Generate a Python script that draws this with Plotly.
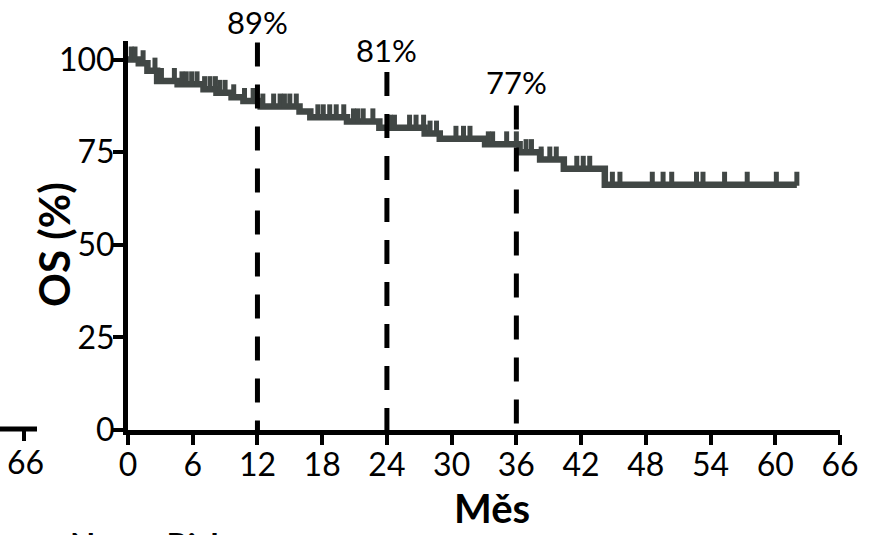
import numpy as np
import plotly.graph_objects as go

# Kaplan-Meier overall survival: event times (months) and survival (%) after each step
event_months = [0, 1.0, 1.8, 2.7, 4.6, 7.0, 8.2, 9.6, 10.7, 12.3, 15.9, 16.9, 20.3,
                23.3, 27.5, 28.9, 33.1, 36.3, 38.2, 40.4, 44.2]
survival_pct = [100, 99.0, 97.0, 94.2, 93.3, 92.0, 91.0, 89.8, 88.8, 87.3, 86.0, 84.4, 83.3,
                81.6, 80.0, 78.6, 77.1, 75.0, 73.0, 70.5, 66.2]
follow_up_end = 62.0

# censored observations (months)
censor_months = [0.3, 0.65, 1.4, 2.5, 3.1, 4.3, 5.0, 5.4, 5.9, 6.4, 7.1, 7.6, 8.1, 8.5,
                 9.0, 9.8, 10.8, 11.6, 12.5, 13.5, 14.1, 14.5, 15.0, 15.6, 17.6, 18.1,
                 18.7, 19.3, 20.0, 20.9, 21.3, 21.8, 22.7, 24.3, 24.7, 26.1, 26.7, 27.4,
                 28.0, 28.6, 30.4, 31.1, 31.7, 33.4, 33.8, 35.1, 36.0, 36.9, 37.4, 38.3,
                 39.1, 39.7, 41.6, 42.2, 42.8, 44.9, 45.6, 48.6, 49.6, 50.4, 52.7, 53.3,
                 55.3, 57.4, 60.1, 62.0]

# landmark survival estimates
landmark_months = [12, 24, 36]
landmark_pct = [89, 81, 77]

x_ticks = list(range(0, 67, 6))
y_ticks = [0, 25, 50, 75, 100]

CURVE = "#414745"
FONT = "Lato"
TICK_SIZE = 32

# plot-area geometry (px) used to place annotations/shapes outside the axes
W, H = 879, 535
ML, MR, MT, MB = 128, 39, 41, 105
PW, PH = W - ML - MR, H - MT - MB
Y_MAX = 105


def px_to_paper_x(px):
    return (px - ML) / PW


def px_to_paper_y(py):
    return (H - MB - py) / PH


def surv_at(t):
    idx = np.searchsorted(event_months, t, side="right") - 1
    return survival_pct[idx]


fig = go.Figure()

# step survival curve
fig.add_trace(go.Scatter(
    x=event_months + [follow_up_end],
    y=survival_pct + [survival_pct[-1]],
    mode="lines", line=dict(color=CURVE, width=6.5, shape="hv"),
    cliponaxis=False, hoverinfo="skip"))

# censor ticks sit just above the curve
tick_lift = 6 / (PH / Y_MAX)
fig.add_trace(go.Scatter(
    x=censor_months,
    y=[surv_at(t) + tick_lift for t in censor_months],
    mode="markers",
    marker=dict(symbol="line-ns", size=10, line=dict(color=CURVE, width=5)),
    cliponaxis=False, hoverinfo="skip"))

# dashed landmark lines, staggered heights
line_tops = [104.6, 96.6, 87.6]
for m, top in zip(landmark_months, line_tops):
    fig.add_trace(go.Scatter(
        x=[m, m], y=[top, 0], mode="lines",
        line=dict(color="black", width=5, dash="24px,18px"),
        cliponaxis=False, hoverinfo="skip"))

label_px_y = [22, 50, 82]
annotations = []
for m, v, py in zip(landmark_months, landmark_pct, label_px_y):
    annotations.append(dict(
        x=m, xref="x", y=px_to_paper_y(py), yref="paper",
        text=f"{v}%", showarrow=False, xanchor="center", yanchor="middle",
        font=dict(family=FONT, size=31, color="black")))

# axis titles
annotations.append(dict(
    x=px_to_paper_x(492), xref="paper", y=px_to_paper_y(508), yref="paper",
    text="<b>Měs</b>", showarrow=False, xanchor="center", yanchor="middle",
    font=dict(family=FONT, size=40, color="black")))
annotations.append(dict(
    x=px_to_paper_x(54), xref="paper", y=px_to_paper_y(245), yref="paper",
    text="<b>OS (%)</b>", showarrow=False, xanchor="center", yanchor="middle",
    textangle=-90, font=dict(family=FONT, size=42, color="black")))

# neighbouring panel's axis end at far left
annotations.append(dict(
    x=px_to_paper_x(25), xref="paper", y=px_to_paper_y(462), yref="paper",
    text="66", showarrow=False, xanchor="center", yanchor="middle",
    font=dict(family=FONT, size=TICK_SIZE, color="black")))
annotations.append(dict(
    x=px_to_paper_x(68), xref="paper", y=px_to_paper_y(522), yref="paper",
    text="<b>No. at Risk</b>", showarrow=False, xanchor="left", yanchor="top",
    font=dict(family=FONT, size=33, color="black")))

shapes = [
    dict(type="line", xref="paper", yref="paper",
         x0=px_to_paper_x(0), x1=px_to_paper_x(37), y0=px_to_paper_y(429), y1=px_to_paper_y(429),
         line=dict(color="black", width=5)),
    dict(type="line", xref="paper", yref="paper",
         x0=px_to_paper_x(24), x1=px_to_paper_x(24), y0=px_to_paper_y(429), y1=px_to_paper_y(441),
         line=dict(color="black", width=4)),
]

fig.update_layout(
    width=W, height=H,
    margin=dict(l=ML, r=MR, t=MT, b=MB),
    plot_bgcolor="white", paper_bgcolor="white",
    showlegend=False,
    font=dict(family=FONT, color="black"),
    annotations=annotations, shapes=shapes,
    xaxis=dict(
        range=[0, 66], tickvals=x_ticks, ticktext=[str(v) for v in x_ticks],
        showline=True, linewidth=5, linecolor="black",
        ticks="outside", ticklen=10, tickwidth=4, tickcolor="black",
        tickfont=dict(family=FONT, size=TICK_SIZE, color="black"),
        ticklabelstandoff=-7,
        showgrid=False, zeroline=False, automargin=False,
    ),
    yaxis=dict(
        range=[0, Y_MAX], tickvals=y_ticks, ticktext=[str(v) for v in y_ticks],
        showline=True, linewidth=5, linecolor="black",
        ticks="outside", ticklen=10, tickwidth=4, tickcolor="black",
        tickfont=dict(family=FONT, size=TICK_SIZE, color="black"),
        ticklabelstandoff=-8,
        showgrid=False, zeroline=False, automargin=False,
    ),
)

fig.write_html("out.html")
